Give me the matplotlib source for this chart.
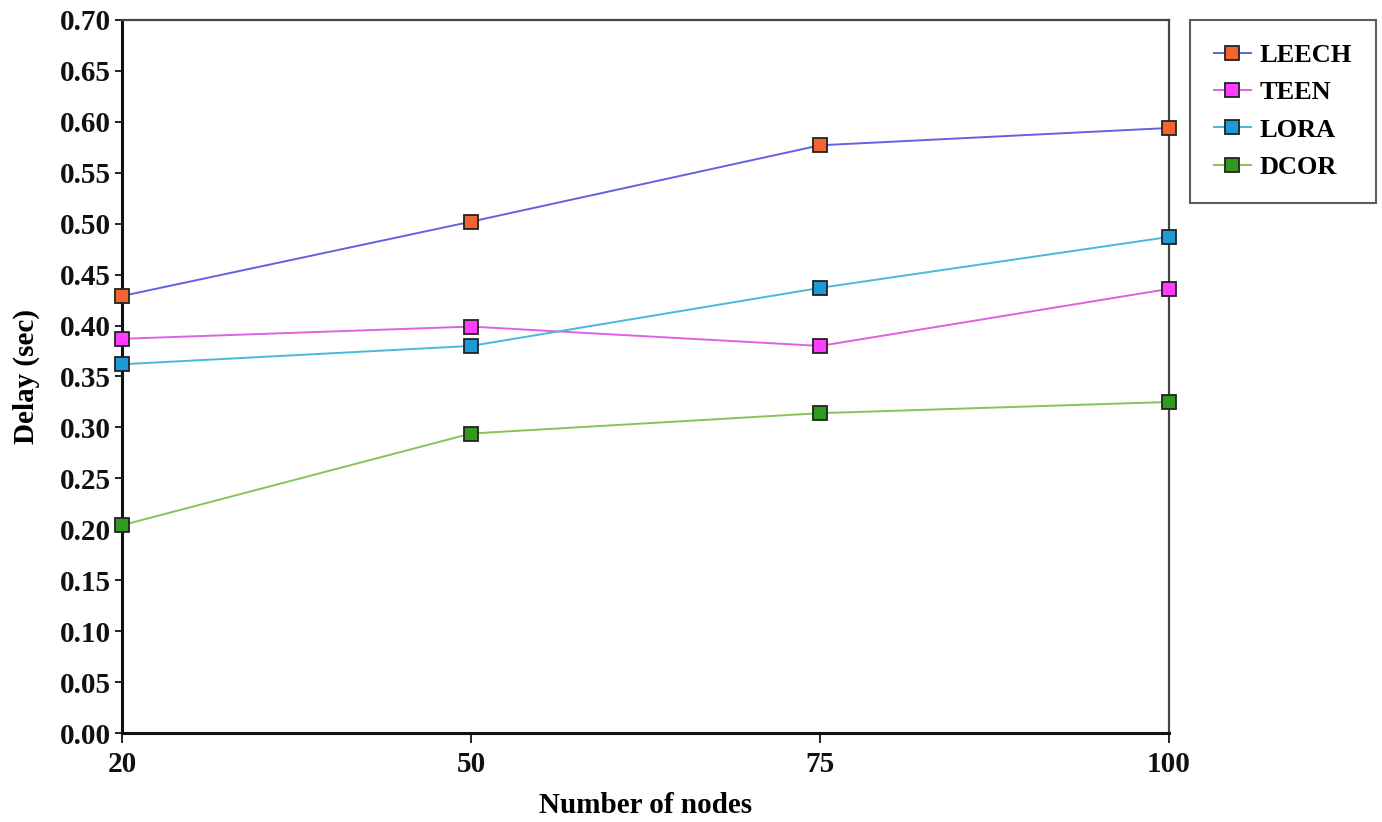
import matplotlib
matplotlib.use("Agg")
import matplotlib.pyplot as plt

categories = ["20", "50", "75", "100"]
leech = [0.429, 0.502, 0.577, 0.594]
teen = [0.387, 0.399, 0.380, 0.436]
lora = [0.362, 0.380, 0.437, 0.487]
dcor = [0.204, 0.294, 0.314, 0.325]
yticks = [0.00, 0.05, 0.10, 0.15, 0.20, 0.25, 0.30, 0.35, 0.40, 0.45, 0.50, 0.55, 0.60, 0.65, 0.70]

series = [
    ("LEECH", leech, "#6262e0", "#f26430"),
    ("TEEN", teen, "#e060e0", "#ff3cff"),
    ("LORA", lora, "#4ab8d8", "#1f9ad8"),
    ("DCOR", dcor, "#86c45a", "#2f9a1e"),
]

plt.rcParams['font.family'] = ['Liberation Serif', 'DejaVu Serif']
plt.rcParams['font.weight'] = 'bold'

fig = plt.figure(figsize=(13.82, 8.22), dpi=100)
ax = fig.add_axes([122/1382, 1 - 733/822, (1169-122)/1382, (733-20)/822])

x = list(range(len(categories)))
handles = []
for name, vals, lc, mc in series:
    ln, = ax.plot(x, vals, color=lc, lw=1.4, marker='s', markersize=10,
                  markerfacecolor=mc, markeredgecolor='#222222', markeredgewidth=1.3,
                  label=name, clip_on=False, zorder=3)
    handles.append(ln)

ax.set_xlim(0, 3)
ax.set_ylim(0, 0.70)
ax.set_xticks(x)
ax.set_xticklabels(categories)
ax.set_yticks(yticks)
ax.set_yticklabels([f"{v:.2f}" for v in yticks])

for s in ['left', 'bottom']:
    ax.spines[s].set_linewidth(2.2)
    ax.spines[s].set_color('#111111')
for s in ['top', 'right']:
    ax.spines[s].set_linewidth(1.6)
    ax.spines[s].set_color('#444444')

ax.tick_params(axis='x', direction='out', length=7, width=1.3, colors='#111111',
               labelsize=21, pad=6)
ax.tick_params(axis='y', direction='out', length=5, width=1.3, colors='#111111',
               labelsize=21, pad=3)
for lab in ax.get_xticklabels() + ax.get_yticklabels():
    lab.set_fontweight('bold')

ax.set_xlabel("Number of nodes", fontsize=21, fontweight='bold', labelpad=10)
ax.set_ylabel("Delay (sec)", fontsize=21, fontweight='bold', labelpad=14)

leg = fig.legend(handles=handles, loc='upper left',
                 bbox_to_anchor=(1190/1382, 1 - 20/822),
                 frameon=True, fancybox=False, edgecolor='#333333',
                 prop={'family': 'Liberation Serif', 'weight': 'bold', 'size': 19},
                 handlelength=1.4, handletextpad=0.35, labelspacing=0.52,
                 borderpad=0.9, borderaxespad=0)
leg.get_frame().set_linewidth(1.5)

fig.savefig("out.png", dpi=100)
